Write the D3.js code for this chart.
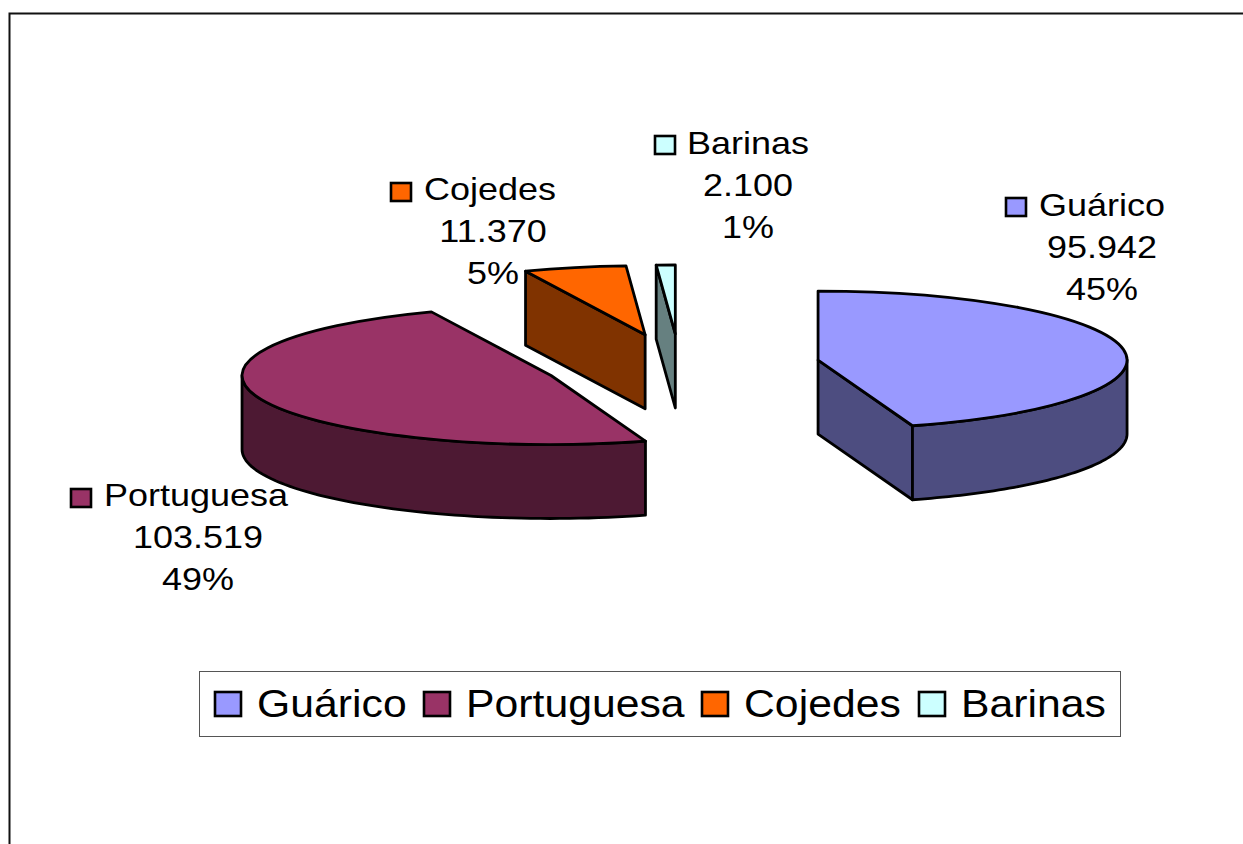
<!DOCTYPE html>
<html>
<head>
<meta charset="utf-8">
<script src="https://cdn.jsdelivr.net/npm/d3@7"></script>
<style>
  html, body { margin: 0; padding: 0; background: #fff; overflow: hidden; }
  text { font-family: "Liberation Sans", Arial, sans-serif; fill: #000; }
  .edge { stroke: #000; stroke-width: 2.8; stroke-linejoin: round; vector-effect: non-scaling-stroke; }
</style>
</head>
<body>
<svg id="chart" width="1243" height="844"></svg>
<script>
var categories = [ "Guárico", "Portuguesa", "Cojedes", "Barinas" ];
var values     = [ 95942, 103519, 11370, 2100 ];
var topColors  = [ "#9999FF", "#993366", "#FF6600", "#CCFFFF" ];
var sideColors = [ "#4D4D80", "#4D1933", "#803300", "#668080" ];

var svg = d3.select( "#chart" );

// page frame: only top and left show in the picture
svg.append( "path" ).attr( "d", "M9.5,844V13.5H1243" )
    .attr( "fill", "none" ).attr( "stroke", "#111" ).attr( "stroke-width", 2 );

var rx = 309, ry = 69, depth = 74;         // squashed pie
var ox = 681.6, oy = 364.8, explode = 0.447;
var nudge = [ 0, -1, -5, -2 ];             // small slices sit a bit left of the pure explode offset
var sx = 1.125;                            // text in the original is stretched sideways

var fmtNum = d3.formatLocale( { decimal: ",", thousands: ".", grouping: [3], currency: ["",""] } ).format( ",d" );
var fmtPct = d3.format( ".0%" );
var total = d3.sum( values );

var slices = d3.pie().sort( null )( values );
var arc = d3.arc().innerRadius( 0 ).outerRadius( rx );
var rScale = d3.scaleLinear().domain( [0, 1] ).range( [0, rx] );
var yScale = d3.scaleLinear().domain( [0, rx] ).range( [0, ry] );

function px( a ) { return rScale( 1 ) * Math.sin( a ); }
function py( a ) { return -yScale( rx ) * Math.cos( a ); }

var line = d3.line();
var g = svg.append( "g" );

slices.forEach( function( s, i ) {
    var mid = ( s.startAngle + s.endAngle ) / 2;
    var cx = ox + explode * px( mid ) + nudge[i], cy = oy + explode * py( mid );
    var h = g.append( "g" ).attr( "transform", "translate(" + cx + "," + cy + ")" );

    // flat cut faces that turn towards the viewer
    var cuts = [];
    if( s.endAngle < Math.PI ) cuts.push( s.endAngle );
    if( s.startAngle > Math.PI ) cuts.push( s.startAngle );
    cuts.forEach( function( a ) {
        h.append( "path" ).attr( "class", "edge" ).attr( "fill", sideColors[i] )
            .attr( "d", line( [ [0,0], [px(a),py(a)], [px(a),py(a)+depth], [0,depth] ] ) + "Z" );
    } );

    // rim, only the front half of the ellipse
    var a0 = Math.max( s.startAngle, Math.PI/2 ), a1 = Math.min( s.endAngle, 3*Math.PI/2 );
    if( a1 > a0 ) {
        var sweep = d3.range( 0, 61 ).map( k => a0 + (a1-a0)*k/60 );
        var upper = sweep.map( a => [ px(a), py(a) ] );
        var lower = sweep.slice().reverse().map( a => [ px(a), py(a)+depth ] );
        h.append( "path" ).attr( "class", "edge" ).attr( "fill", sideColors[i] )
            .attr( "d", line( upper.concat( lower ) ) + "Z" );
    }

    // top face
    h.append( "path" ).attr( "class", "edge" ).attr( "fill", topColors[i] )
        .attr( "transform", "scale(1," + (ry/rx) + ")" )
        .attr( "d", arc( s ) );
} );

function swatch( x, y, w, h, i ) {
    svg.append( "rect" ).attr( "x", x ).attr( "y", y ).attr( "width", w ).attr( "height", h )
        .attr( "fill", topColors[i] ).attr( "stroke", "#000" ).attr( "stroke-width", 2.6 );
}
function label( str, x, y, size, anchor ) {
    svg.append( "text" ).attr( "transform", "translate(" + x + "," + y + ") scale(" + sx + ",1)" )
        .attr( "font-size", size ).attr( "text-anchor", anchor ).text( str );
}

// data labels: swatch left, name, then value and share centred below
var labelBox = [ [1006,198,1039,216,1102], [71,489,104,506,198], [391,183,424,200,493], [655,136,687,154,748] ];
categories.forEach( function( c, i ) {
    var b = labelBox[i];
    swatch( b[0], b[1], 20, 18, i );
    label( c, b[2], b[3], 32, "start" );
    label( fmtNum( values[i] ), b[4], b[3]+42, 32, "middle" );
    label( fmtPct( values[i]/total ), b[4], b[3]+84, 32, "middle" );
} );

// legend
svg.append( "rect" ).attr( "x", 199.5 ).attr( "y", 671.5 ).attr( "width", 921 ).attr( "height", 65 )
    .attr( "fill", "#fff" ).attr( "stroke", "#555" ).attr( "stroke-width", 1 );
var legendX = [ 215, 424, 702, 919 ];
categories.forEach( function( c, i ) {
    swatch( legendX[i], 692, 26, 24, i );
    label( c, legendX[i]+42, 717, 38, "start" );
} );
</script>
</body>
</html>
